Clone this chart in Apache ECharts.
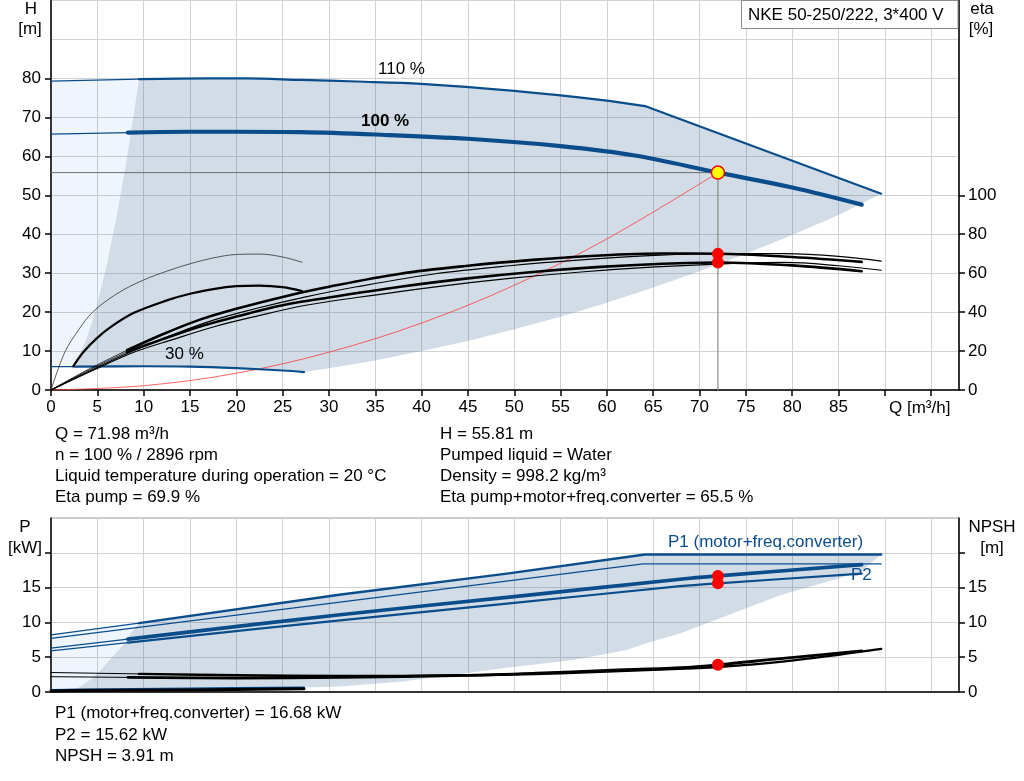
<!DOCTYPE html>
<html><head><meta charset="utf-8">
<script src="https://cdn.jsdelivr.net/npm/echarts@6/dist/echarts.min.js"></script>
<style>html,body{margin:0;padding:0;background:#fff}#c{width:1024px;height:781px}</style>
</head><body><div id="c"></div>
<script>
// ---------- DATA ----------
// Q-H curves (top chart, left axis H [m])
const q110Thin = [0, 9.5];
const h110Thin = [79.3, 79.8];
const q110 = [9.5, 17, 21, 27, 33, 40, 50, 59.3, 64.1];
const h110 = [79.8, 80.0, 80.0, 79.6, 79.2, 78.6, 76.8, 74.5, 72.9];
const q110Lim = [64.1, 89.6];
const h110Lim = [72.9, 50.4];
const q100Thin = [0, 8.3];
const h100Thin = [65.7, 66.1];
const q100 = [8.3, 15, 20, 27, 35, 45, 55, 63, 72, 80, 87.5];
const h100 = [66.1, 66.3, 66.3, 66.2, 65.6, 64.5, 62.6, 60.2, 55.81, 52.0, 47.6];
const q30Thin = [0, 2.6];
const h30Thin = [6.0, 6.0];
const q30 = [2.6, 10, 15, 20, 25, 27.3];
const h30 = [6.0, 6.1, 6.0, 5.6, 5.0, 4.6];
// system curve (red)
const qSys = [0, 10, 20, 30, 40, 50, 60, 72];
const hSys = [0, 1.1, 4.3, 9.7, 17.2, 26.9, 38.8, 55.81];
// operating area polygons (top)
const qAreaDark = [2.6, 4, 5, 6, 7, 8, 9, 9.5, 17, 21, 27, 33, 40, 50, 59.3, 64.1, 89.6, 85, 80, 75, 70, 65, 60, 55, 50, 45, 40, 35, 30, 27.3, 25, 20, 15, 10, 2.6];
const hAreaDark = [6.0, 14.2, 22.1, 31.9, 43.4, 56.6, 71.7, 79.8, 80.0, 80.0, 79.6, 79.2, 78.6, 76.8, 74.5, 72.9, 50.4, 44.9, 39.8, 35.0, 30.5, 26.3, 22.4, 18.8, 15.6, 12.6, 10.0, 7.6, 5.6, 4.6, 5.0, 5.6, 6.0, 6.1, 6.0];
const qAreaLight = [0, 0, 9.5, 9, 8, 7, 6, 5, 4, 2.6];
const hAreaLight = [6.0, 79.3, 79.8, 71.7, 56.6, 43.4, 31.9, 22.1, 14.2, 6.0];
// efficiency curves (top chart, right axis eta [%])
const qEtaPumpThin = [0, 4, 8.2];
const eEtaPumpThin = [0, 10.5, 20.4];
const qEtaPump = [8.2, 12, 16, 20, 25, 30, 37.7, 45, 52, 59.3, 66, 72, 80, 87.5];
const eEtaPump = [20.4, 28.5, 36, 41.7, 47.8, 53.0, 59.7, 63.8, 66.8, 69.1, 70.1, 70.0, 68.3, 65.8];
const qEtaTotThin = [0, 4, 8.2];
const eEtaTotThin = [0, 10, 19.5];
const qEtaTot = [8.2, 12, 16, 20, 25, 30, 37.7, 45, 52, 59.3, 66, 72, 80, 87.5];
const eEtaTot = [19.5, 26, 32.5, 37.7, 43.5, 47.5, 53.0, 57.3, 60.6, 63.2, 64.8, 65.5, 64.0, 61.0];
const qEtaPump110 = [0, 4.5, 9.0, 13.2, 17.6, 22, 27.5, 33, 41.5, 49.5, 57.2, 65.2, 72.6, 79.2, 85, 89.6];
const eEtaPump110 = [0, 10.5, 20.4, 28.5, 36, 41.7, 47.8, 53.0, 59.7, 63.8, 66.8, 69.1, 70.1, 70.0, 68.6, 66.2];
const qEtaTot110 = [0, 4.5, 9.0, 13.2, 17.6, 22, 27.5, 33, 41.5, 49.5, 57.2, 65.2, 72.6, 79.2, 85, 89.6];
const eEtaTot110 = [0, 10, 19.5, 26, 32.5, 37.7, 43.5, 47.5, 53.0, 57.3, 60.6, 63.2, 64.8, 65.5, 63.8, 61.5];
const qEta30Pump = [0, 1.5, 3, 4.5, 7.1, 9.9, 12.5, 15, 17.5, 20, 22.5, 25, 27.1];
const eEta30Pump = [0, 19.5, 31, 40, 49.4, 56.3, 61, 64.8, 67.8, 69.6, 69.8, 68.3, 65.6];
const qEta30Tot = [2.4, 3.5, 4.9, 6.5, 8.9, 12.5, 15, 17.5, 20, 22.5, 25, 27.1];
const eEta30Tot = [12.2, 19.5, 26.4, 32.5, 39.5, 46.0, 49.4, 51.8, 53.3, 53.6, 52.8, 50.8];
// duty point
const dutyQ = 71.98, dutyH = 55.81, dutyEta = [69.9, 65.5];
// power curves (bottom chart, P [kW])
const qP1_110Thin = [0, 9.5];
const pP1_110Thin = [8.2, 9.9];
const qP1_110 = [9.5, 31.3, 49.2, 64.1, 89.6];
const pP1_110 = [9.9, 14.0, 17.0, 19.75, 19.75];
const qP2_110 = [0, 31.2, 63.9, 89.6];
const pP2_110 = [7.7, 12.9, 18.4, 18.4];
const qP1_100Thin = [0, 8.3];
const pP1_100Thin = [6.3, 7.6];
const qP1_100 = [8.3, 31.2, 50, 67.9, 72, 87.5];
const pP1_100 = [7.6, 11.1, 13.7, 16.2, 16.68, 18.3];
const qP2_100Thin = [0, 8.3];
const pP2_100Thin = [5.9, 7.1];
const qP2_100 = [8.3, 31.2, 50, 67.9, 72, 87.5];
const pP2_100 = [7.1, 10.3, 12.8, 15.2, 15.62, 17.0];
const qP30 = [0, 2.7, 15, 27.3];
const pP30 = [0.3, 0.35, 0.5, 0.65];
// NPSH curves (bottom chart, NPSH [m])
const qN100Thin = [0, 8.3];
const nN100Thin = [2.2, 2.1];
const qN100 = [8.3, 20, 31.2, 45, 52.4, 60, 67.9, 72, 78.7, 87.5];
const nN100 = [2.1, 2.0, 2.1, 2.4, 2.7, 3.1, 3.5, 3.91, 4.8, 5.9];
const qN110Thin = [0, 9.5];
const nN110Thin = [2.8, 2.6];
const qN110 = [9.5, 20, 31.2, 45, 55, 65, 72, 79.2, 89.6];
const nN110 = [2.6, 2.4, 2.3, 2.4, 2.7, 3.2, 3.6, 4.4, 6.2];
const qN30 = [0, 2.7, 15, 27.3];
const nN30 = [0.15, 0.2, 0.3, 0.45];
// operating area polygons (bottom)
const qPAreaDark = [2.7, 4.5, 5.2, 6.6, 7.8, 8.7, 9.5, 31.3, 49.2, 64.1, 89.6, 87.3, 78.7, 67.9, 64.7, 62, 56.4, 49.2, 38, 31.2, 27.3, 15, 2.7];
const pPAreaDark = [0.35, 2.0, 2.9, 5.0, 6.7, 8.6, 9.9, 14.0, 17.0, 19.75, 19.75, 17.2, 13.9, 8.4, 7.2, 6.0, 4.6, 3.5, 1.5, 0.8, 0.65, 0.5, 0.35];
const qPAreaLight = [0, 0, 9.5, 8.7, 7.8, 6.6, 5.2, 4.5, 2.7];
const pPAreaLight = [0.3, 8.2, 9.9, 8.6, 6.7, 5.0, 2.9, 2.0, 0.35];
const dutyP = [16.68, 15.62], dutyNPSH = 3.91;
// tick values
const xTicks = [0,5,10,15,20,25,30,35,40,45,50,55,60,65,70,75,80,85,90,95];
const xLabels = [0,5,10,15,20,25,30,35,40,45,50,55,60,65,70,75,80,85];
const hTicks = [0,10,20,30,40,50,60,70,80];
const etaTicks = [0,20,40,60,80,100];
const pTicks = [0,5,10,15,20];
const pLabels = [0,5,10,15];

// ---------- BUILD ----------
const BLUE = '#0b4d8b';
const FONT = "'Liberation Sans', Arial, sans-serif";
const FS = 17;
const zip = (a, b) => a.map((v, i) => [v, b[i]]);
function line(xi, yi, qs, vs, color, width, smooth, z) {
  return { type: 'line', xAxisIndex: xi, yAxisIndex: yi, data: zip(qs, vs), symbol: 'none', showSymbol: false,
    smooth: smooth ? 0.35 : false, lineStyle: { color: color, width: width, cap: 'round', join: 'round' }, z: z || 3, silent: true, animation: false, clip: true };
}
function poly(xi, yi, qs, vs, fill, z) {
  const pts = zip(qs, vs);
  return { type: 'custom', xAxisIndex: xi, yAxisIndex: yi, data: pts, z: z || 1, silent: true, animation: false,
    renderItem: function (params, api) {
      if (params.dataIndex !== 0) return null;
      return { type: 'polygon', shape: { points: pts.map(p => api.coord(p)) }, style: { fill: fill } };
    } };
}
function dots(xi, yi, pts, fill, border, size) {
  return { type: 'scatter', xAxisIndex: xi, yAxisIndex: yi, data: pts, symbolSize: size, z: 10, silent: true, animation: false,
    itemStyle: { color: fill, borderColor: border, borderWidth: border ? 1.5 : 0, opacity: 1 } };
}
const darkFill = 'rgba(25,80,135,0.2)';
const lightFill = 'rgba(12,112,226,0.07)';
const gridLine = { show: true, lineStyle: { color: '#d2d2d2', width: 1 } };
const blackAxis = { show: true, lineStyle: { color: '#000', width: 1.5 } };
const lbl = { color: '#000', fontSize: FS, fontFamily: FONT };

const series = [
  poly(0, 0, qAreaLight, hAreaLight, lightFill, 1),
  poly(0, 0, qAreaDark, hAreaDark, darkFill, 1),
  line(0, 0, [0, dutyQ], [dutyH, dutyH], '#6e6e6e', 1, false, 2),
  line(0, 0, [dutyQ, dutyQ], [0, dutyH], '#8a8a8a', 1.2, false, 2),
  line(0, 0, qSys, hSys, '#ff3b3b', 0.8, true, 2),
  line(0, 0, q110Thin, h110Thin, BLUE, 1.2, false),
  line(0, 0, q110, h110, BLUE, 2.2, true),
  line(0, 0, q110Lim, h110Lim, BLUE, 2.2, false),
  line(0, 0, q100Thin, h100Thin, BLUE, 1.2, false),
  line(0, 0, q100, h100, BLUE, 4.2, true),
  line(0, 0, q30Thin, h30Thin, BLUE, 1.2, false),
  line(0, 0, q30, h30, BLUE, 2.2, true),
  line(0, 1, qEtaPumpThin, eEtaPumpThin, '#000', 0.8, true),
  line(0, 1, qEtaTotThin, eEtaTotThin, '#000', 0.8, true),
  line(0, 1, qEtaPump110, eEtaPump110, '#000', 1.2, true),
  line(0, 1, qEtaTot110, eEtaTot110, '#000', 1.2, true),
  line(0, 1, qEtaPump, eEtaPump, '#000', 2.6, true),
  line(0, 1, qEtaTot, eEtaTot, '#000', 2.6, true),
  line(0, 1, qEta30Pump, eEta30Pump, '#333', 0.8, true),
  line(0, 1, qEta30Tot, eEta30Tot, '#000', 2.2, true),
  dots(0, 1, dutyEta.map(e => [dutyQ, e]), '#ff0000', null, 12),
  dots(0, 0, [[dutyQ, dutyH]], '#ffff00', '#ff0000', 13),
  poly(1, 2, qPAreaLight, pPAreaLight, lightFill, 1),
  poly(1, 2, qPAreaDark, pPAreaDark, darkFill, 1),
  line(1, 2, qP1_110Thin, pP1_110Thin, BLUE, 1.2, false),
  line(1, 2, qP1_110, pP1_110, BLUE, 2.4, false),
  line(1, 2, qP2_110, pP2_110, BLUE, 1.2, false),
  line(1, 2, qP1_100Thin, pP1_100Thin, BLUE, 1.2, false),
  line(1, 2, qP1_100, pP1_100, BLUE, 3.6, true),
  line(1, 2, qP2_100Thin, pP2_100Thin, BLUE, 1.2, false),
  line(1, 2, qP2_100, pP2_100, BLUE, 2.2, true),
  line(1, 2, qP30, pP30, BLUE, 2, true),
  line(1, 3, qN110Thin, nN110Thin, '#000', 1, false),
  line(1, 3, qN110, nN110, '#000', 2.4, true),
  line(1, 3, qN100Thin, nN100Thin, '#000', 1, false),
  line(1, 3, qN100, nN100, '#000', 2.8, true),
  line(1, 3, qN30, nN30, '#000', 3, true),
  dots(1, 2, dutyP.map(p => [dutyQ, p]), '#ff0000', null, 12),
  dots(1, 3, [[dutyQ, dutyNPSH]], '#ff0000', null, 12)
];

function t(x, y, s, align, color, weight) {
  return { type: 'text', x: x, y: y, z: 50,
    style: { text: s, fill: color || '#000', font: (weight ? weight + ' ' : '') + FS + 'px ' + FONT,
      textVerticalAlign: 'middle', textAlign: align || 'left' } };
}
const graphics = [
  { type: 'rect', z: 40, shape: { x: 741.5, y: 0.5, width: 216.5, height: 28 }, style: { fill: '#fff', stroke: '#8a8a8a', lineWidth: 1 } },
  t(748, 15, 'NKE 50-250/222, 3*400 V'),
  t(31, 9, 'H', 'center'),
  t(30, 29, '[m]', 'center'),
  t(982, 9, 'eta', 'center'),
  t(981, 29, '[%]', 'center'),
  t(889, 408, 'Q [m³/h]'),
  t(378, 69, '110 %'),
  t(361, 121, '100 %', 'left', '#000', 'bold'),
  t(165, 354, '30 %'),
  t(55, 434, 'Q = 71.98 m³/h'),
  t(55, 455, 'n = 100 % / 2896 rpm'),
  t(55, 476, 'Liquid temperature during operation = 20 °C'),
  t(55, 497, 'Eta pump = 69.9 %'),
  t(440, 434, 'H = 55.81 m'),
  t(440, 455, 'Pumped liquid = Water'),
  t(440, 476, 'Density = 998.2 kg/m³'),
  t(440, 497, 'Eta pump+motor+freq.converter = 65.5 %'),
  t(25, 527, 'P', 'center'),
  t(25, 548, '[kW]', 'center'),
  t(992, 527, 'NPSH', 'center'),
  t(992, 548, '[m]', 'center'),
  t(668, 542, 'P1 (motor+freq.converter)', 'left', BLUE),
  t(851, 575, 'P2', 'left', BLUE),
  t(55, 713, 'P1 (motor+freq.converter) = 16.68 kW'),
  t(55, 735, 'P2 = 15.62 kW'),
  t(55, 756, 'NPSH = 3.91 m')
];

const option = {
  animation: false,
  backgroundColor: '#fff',
  textStyle: { fontFamily: FONT },
  grid: [
    { left: 51, right: 65, top: 0.5, height: 389.5, show: true, borderColor: '#9a9a9a', borderWidth: 1, backgroundColor: 'transparent' },
    { left: 51, right: 65, top: 518, height: 174, show: true, borderColor: '#9a9a9a', borderWidth: 1, backgroundColor: 'transparent' }
  ],
  xAxis: [
    { gridIndex: 0, type: 'value', min: 0, max: 98, interval: 5, axisLine: blackAxis,
      axisTick: { show: true, customValues: xTicks, length: 6, lineStyle: { color: '#000', width: 1.5 } },
      axisLabel: Object.assign({ customValues: xLabels, margin: 9, formatter: v => (v <= 85 ? String(v) : '') }, lbl),
      splitLine: gridLine },
    { gridIndex: 1, type: 'value', min: 0, max: 98, interval: 5, axisLine: blackAxis,
      axisTick: { show: false }, axisLabel: { show: false }, splitLine: gridLine }
  ],
  yAxis: [
    { gridIndex: 0, type: 'value', position: 'left', min: 0, max: 100, interval: 10, axisLine: blackAxis,
      axisTick: { show: true, customValues: hTicks, length: 6, lineStyle: { color: '#000', width: 1.5 } },
      axisLabel: Object.assign({ customValues: hTicks, margin: 10, formatter: v => (v <= 80 ? String(v) : '') }, lbl),
      splitLine: { show: false } },
    { gridIndex: 0, type: 'value', position: 'right', min: 0, max: 200, interval: 20, axisLine: blackAxis,
      axisTick: { show: true, customValues: etaTicks, length: 6, lineStyle: { color: '#000', width: 1.5 } },
      axisLabel: Object.assign({ customValues: etaTicks, margin: 9, formatter: v => (v <= 100 ? String(v) : '') }, lbl),
      splitLine: { show: false } },
    { gridIndex: 1, type: 'value', position: 'left', min: 0, max: 25, interval: 5, axisLine: blackAxis,
      axisTick: { show: true, customValues: pTicks, length: 6, lineStyle: { color: '#000', width: 1.5 } },
      axisLabel: Object.assign({ customValues: pLabels, margin: 10, formatter: v => (v <= 15 ? String(v) : '') }, lbl),
      splitLine: gridLine },
    { gridIndex: 1, type: 'value', position: 'right', min: 0, max: 25, interval: 5, axisLine: blackAxis,
      axisTick: { show: true, customValues: pTicks, length: 6, lineStyle: { color: '#000', width: 1.5 } },
      axisLabel: Object.assign({ customValues: pLabels, margin: 9, formatter: v => (v <= 15 ? String(v) : '') }, lbl),
      splitLine: { show: false } },
    { gridIndex: 0, type: 'value', position: 'left', min: 0, max: 100, interval: 10,
      axisLine: { show: false }, axisTick: { show: false }, axisLabel: { show: false }, splitLine: gridLine }
  ],
  series: series,
  graphic: graphics
};
const chart = echarts.init(document.getElementById('c'), null, { renderer: 'canvas' });
chart.setOption(option);
</script>
</body></html>
